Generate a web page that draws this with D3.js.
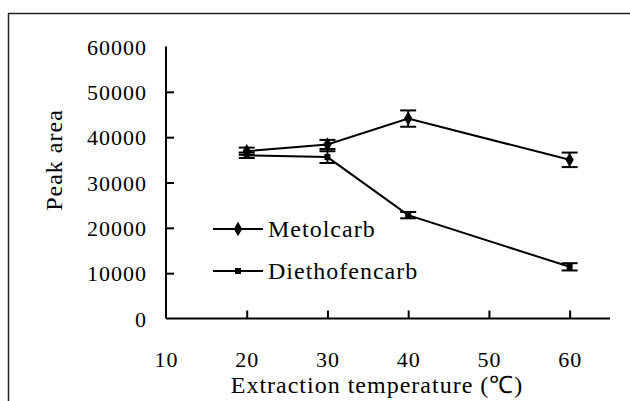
<!DOCTYPE html>
<html lang="en">
<head>
  <meta charset="utf-8">
  <title>Peak area vs extraction temperature</title>
  <script type="text/javascript" src="https://cdn.jsdelivr.net/npm/d3@7"></script>
  <style>
    body { margin: 0; background: #fff; }
  </style>
</head>
<body>
  <script type="text/javascript">

  // values
  var temps = [20, 30, 40, 60]
  var metolcarb = [36900, 38400, 44100, 35000]
  var metolcarbErr = [800, 1000, 1800, 1600]
  var diethofencarb = [36000, 35600, 22800, 11400]
  var diethofencarbErr = [600, 1300, 700, 800]
  var xTicks = [10, 20, 30, 40, 50, 60]
  var yTicks = [0, 10000, 20000, 30000, 40000, 50000, 60000]

  var serif = "'Liberation Serif', 'Times New Roman', serif"
  var width = 630
  var height = 401

  var svg = d3.select("body")
    .append("svg")
    .attr("width", width)
    .attr("height", height)
    .attr("font-family", serif)

  // outer frame (cut off at right and bottom like the original)
  svg.append("path")
    .attr("d", "M8.5,401V13.5H630")
    .attr("fill", "none")
    .attr("stroke", "#222")
    .attr("stroke-width", 1.5)

  var x = d3.scaleLinear().domain([10, 65]).range([166, 610])
  var y = d3.scaleLinear().domain([0, 60000]).range([318.5, 46.5])

  // y axis, ticks pointing inwards
  var yAxis = svg.append("g")
    .attr("transform", "translate(" + x(10) + ",0)")
    .call(d3.axisRight(y).tickValues(yTicks).tickSize(8).tickFormat(d3.format("d")))
  yAxis.attr("font-family", serif).attr("font-size", 22)
  yAxis.select(".domain").attr("d", "M0," + y(60000) + "V" + y(0)).attr("stroke-width", 2)
  yAxis.selectAll(".tick line").attr("stroke-width", 2)
    .filter(d => d === 0 || d === 60000).remove()
  yAxis.selectAll(".tick text")
    .attr("x", -19)
    .attr("dy", "0.35em")
    .attr("text-anchor", "end")
    .attr("letter-spacing", 1)

  // x axis, labels sit well below the line
  var xAxis = svg.append("g")
    .attr("transform", "translate(0," + y(0) + ")")
    .call(d3.axisTop(x).tickValues(xTicks).tickSize(8))
  xAxis.attr("font-family", serif).attr("font-size", 22)
  xAxis.select(".domain").attr("d", "M" + x(10) + ",0H" + x(65)).attr("stroke-width", 2)
  xAxis.selectAll(".tick line").attr("stroke-width", 2)
    .filter(d => d === 10).remove()
  xAxis.selectAll(".tick text")
    .attr("y", 48)
    .attr("dy", 0)
    .attr("text-anchor", "middle")
    .attr("letter-spacing", 1)
  svg.selectAll(".domain, .tick line").attr("stroke", "#000")

  // axis titles
  svg.append("text")
    .attr("transform", "translate(62,160) rotate(-90)")
    .attr("text-anchor", "middle")
    .attr("font-size", 24)
    .attr("letter-spacing", 1)
    .text("Peak area")

  svg.append("text")
    .attr("x", 377)
    .attr("y", 393)
    .attr("text-anchor", "middle")
    .attr("font-size", 24)
    .attr("letter-spacing", 1)
    .text("Extraction temperature (\u2103)")

  var series = [
    { name: "Metolcarb", values: metolcarb, err: metolcarbErr, shape: d3.symbolDiamond, size: 60 },
    { name: "Diethofencarb", values: diethofencarb, err: diethofencarbErr, shape: d3.symbolSquare, size: 36 }
  ]

  var line = d3.line()
    .x(d => x(d.t))
    .y(d => y(d.v))

  series.forEach(function(s) {
    var pts = temps.map((t, i) => ({ t: t, v: s.values[i], e: s.err[i] }))
    var g = svg.append("g")

    g.append("path")
      .datum(pts)
      .attr("d", line)
      .attr("fill", "none")
      .attr("stroke", "#000")
      .attr("stroke-width", 2)

    // error bars
    var eb = g.selectAll(".eb").data(pts).enter().append("g")
    eb.append("line")
      .attr("x1", d => x(d.t)).attr("x2", d => x(d.t))
      .attr("y1", d => y(d.v + d.e)).attr("y2", d => y(d.v - d.e))
      .attr("stroke", "#000").attr("stroke-width", 2)
    eb.append("line")
      .attr("x1", d => x(d.t) - 8).attr("x2", d => x(d.t) + 8)
      .attr("y1", d => y(d.v + d.e)).attr("y2", d => y(d.v + d.e))
      .attr("stroke", "#000").attr("stroke-width", 2)
    eb.append("line")
      .attr("x1", d => x(d.t) - 8).attr("x2", d => x(d.t) + 8)
      .attr("y1", d => y(d.v - d.e)).attr("y2", d => y(d.v - d.e))
      .attr("stroke", "#000").attr("stroke-width", 2)

    g.selectAll(".pt").data(pts).enter().append("path")
      .attr("transform", d => "translate(" + x(d.t) + "," + y(d.v) + ")")
      .attr("d", d3.symbol().type(s.shape).size(s.size))
      .attr("fill", "#000")
  })

  // legend
  var legend = svg.append("g")
    .selectAll("g")
    .data(series)
    .enter().append("g")
    .attr("transform", (d, i) => "translate(213," + (229 + i * 42) + ")")
  legend.append("line")
    .attr("x1", 0).attr("x2", 50)
    .attr("stroke", "#000").attr("stroke-width", 2)
  legend.append("path")
    .attr("transform", "translate(25,0)")
    .attr("d", d => d3.symbol().type(d.shape).size(d.size)())
    .attr("fill", "#000")
  legend.append("text")
    .attr("x", 55)
    .attr("y", 8)
    .attr("font-size", 24)
    .attr("letter-spacing", 1)
    .text(d => d.name)

  </script>
</body>
</html>
